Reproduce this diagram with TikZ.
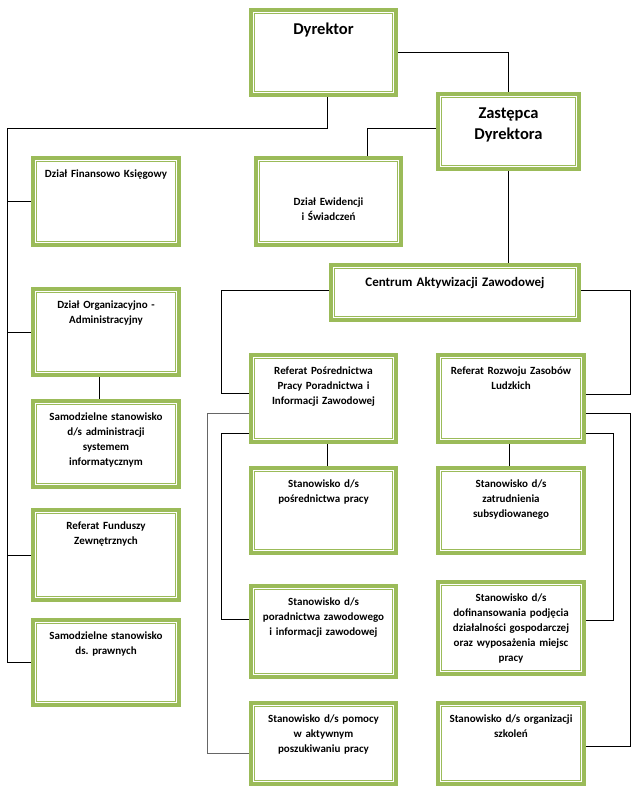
\documentclass[tikz,border=0pt]{standalone}
\usepackage{fontspec}
\setmainfont{Carlito}
\frenchspacing
\definecolor{unitgreen}{HTML}{9BBB59}
\tikzset{
  unit/.style={draw=unitgreen, line width=4pt, fill=white, inner sep=0pt,
    path picture={\draw[unitgreen, line width=0.8pt]
      ([shift={(3.5pt,3.5pt)}]path picture bounding box.south west) rectangle
      ([shift={(-3.5pt,-3.5pt)}]path picture bounding box.north east);}},
  utext/.style={anchor=north, yshift=-13pt, inner sep=0pt, text width=140pt,
    align=center, text height=8pt, font=\bfseries\fontsize{11}{15}\selectfont},
  htext/.style={anchor=north, inner sep=0pt, text width=240pt, align=center,
    text height=12pt, font=\bfseries\fontsize{16.5}{21}\selectfont},
  link/.style={line width=0.8pt},
}
\begin{document}
\begin{tikzpicture}[x=1pt, y=-1pt]
\useasboundingbox (0,0) rectangle (640,800);
% kierownictwo
\node[unit, minimum width=145pt, minimum height=85pt, label={[htext, yshift=-14pt]north:Dyrektor}] (dyr) at (323.5,52.5) {};
\node[unit, minimum width=141pt, minimum height=75pt, label={[htext, yshift=-14pt]north:{Zastępca\\Dyrektora}}] (zast) at (508.5,131.5) {};
% lewa kolumna
\node[unit, minimum width=146pt, minimum height=87pt, label={[utext]north:Dział Finansowo Księgowy}] (fin) at (106,201.5) {};
\node[unit, minimum width=146pt, minimum height=86pt, label={[utext]north:{Dział Organizacyjno -\\Administracyjny}}] (org) at (106,332) {};
\node[unit, minimum width=146pt, minimum height=86pt, label={[utext]north:{Samodzielne stanowisko\\d/s administracji\\systemem\\informatycznym}}] (adm) at (106,444) {};
\node[unit, minimum width=146pt, minimum height=90pt, label={[utext]north:{Referat Funduszy\\Zewnętrznych}}] (fund) at (106,555) {};
\node[unit, minimum width=146pt, minimum height=85pt, label={[utext]north:{Samodzielne stanowisko\\ds. prawnych}}] (praw) at (106,662.5) {};
% srodek
\node[unit, minimum width=145pt, minimum height=87pt, label={[utext, yshift=-28pt]north:{Dział Ewidencji\\i Świadczeń}}] (ewi) at (328.5,201.5) {};
\node[unit, minimum width=248pt, minimum height=55pt, label={[htext, text height=9.5pt, font=\bfseries\fontsize{13}{16}\selectfont, yshift=-13.5pt]north:Centrum Aktywizacji Zawodowej}] (cent) at (455,292.5) {};
\node[unit, minimum width=145pt, minimum height=87pt, label={[utext]north:{Referat Pośrednictwa\\Pracy Poradnictwa i\\Informacji Zawodowej}}] (refp) at (323.5,398.5) {};
\node[unit, minimum width=145pt, minimum height=85pt, label={[utext]north:{Stanowisko d/s\\pośrednictwa pracy}}] (posr) at (323.5,510.5) {};
\node[unit, minimum width=145pt, minimum height=91pt, label={[utext]north:{Stanowisko d/s\\poradnictwa zawodowego\\i informacji zawodowej}}] (pora) at (323.5,631.5) {};
\node[unit, minimum width=145pt, minimum height=81pt, label={[utext]north:{Stanowisko d/s pomocy\\w aktywnym\\poszukiwaniu pracy}}] (pomo) at (323.5,743.5) {};
% prawa kolumna
\node[unit, minimum width=146pt, minimum height=87pt, label={[utext]north:{Referat Rozwoju Zasobów\\Ludzkich}}] (refr) at (511,398.5) {};
\node[unit, minimum width=146pt, minimum height=85pt, label={[utext]north:{Stanowisko d/s\\zatrudnienia\\subsydiowanego}}] (zatr) at (511,510.5) {};
\node[unit, minimum width=146pt, minimum height=92pt, label={[utext]north:{Stanowisko d/s\\dofinansowania podjęcia\\działalności gospodarczej\\oraz wyposażenia miejsc\\pracy}}] (dofi) at (511,628) {};
\node[unit, minimum width=146pt, minimum height=81pt, label={[utext]north:{Stanowisko d/s organizacji\\szkoleń}}] (szko) at (511,743.5) {};
% polaczenia
\coordinate (trunk) at (7,128);
\draw[link] (dyr.east) -| (zast.north);
\draw[link] ([xshift=3.5pt]dyr.south) |- (trunk) |- (praw.west);
\draw[link] (trunk |- fin.west) -- (fin.west);
\draw[link] (trunk |- org.west) -- (org.west);
\draw[link] (trunk |- fund.west) -- (fund.west);
\draw[link] ([xshift=-7pt]org.south) -- ([xshift=-7pt]adm.north);
\draw[link] ([yshift=3.5pt]zast.west) -| ([xshift=39pt]ewi.north);
\draw[link] (zast.south) -- (zast.south |- cent.north);
\draw[link] ([yshift=2.5pt]cent.west) -| ([xshift=-28pt,yshift=5.5pt]refp.west) -- ([yshift=5.5pt]refp.west);
\draw[link] ([yshift=2.5pt]cent.east) -| ([xshift=44pt,yshift=4pt]refr.east) -- ([yshift=4pt]refr.east);
\draw[link, black!60] ([yshift=-14.5pt]refp.west) -| ([xshift=-42pt,yshift=-9.5pt]pomo.west) -- ([yshift=-9.5pt]pomo.west);
\draw[link] ([yshift=-34.5pt]refp.west) -| ([xshift=-28pt,yshift=12.5pt]pora.west) -- ([yshift=12.5pt]pora.west);
\draw[link] ([yshift=-14.5pt]refr.east) -| ([xshift=44pt,yshift=-2.5pt]szko.east) -- ([yshift=-2.5pt]szko.east);
\draw[link] ([yshift=-34.5pt]refr.east) -| ([xshift=27pt,yshift=8pt]dofi.east) -- ([yshift=8pt]dofi.east);
\draw[link] ([xshift=3.5pt]refp.south) -- ([xshift=3.5pt]posr.north);
\draw[link] ([xshift=-2pt]refr.south) -- ([xshift=-2pt]zatr.north);
\end{tikzpicture}
\end{document}
